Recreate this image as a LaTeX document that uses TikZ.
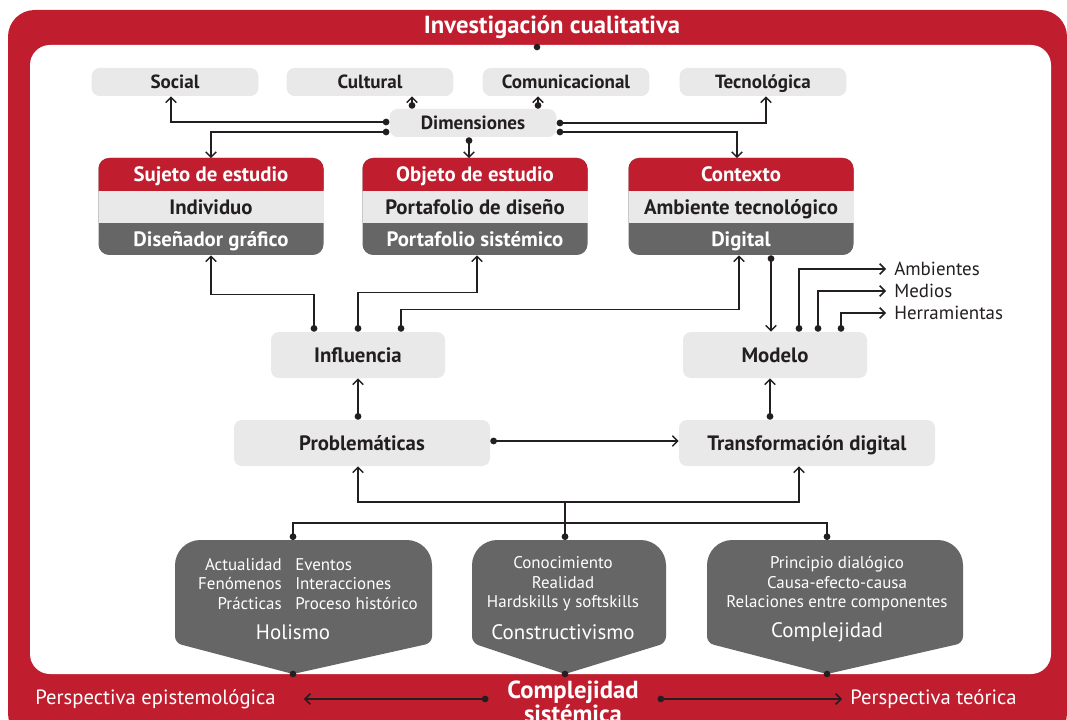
\documentclass[tikz,border=0pt]{standalone}
\usepackage{fontspec}
\setmainfont{PT Sans}
\usetikzlibrary{arrows.meta}

\definecolor{unired}{RGB}{192,30,47}
\definecolor{boxgray}{RGB}{233,233,233}
\definecolor{shieldgray}{RGB}{102,102,102}
\definecolor{inkblack}{RGB}{35,31,32}

\begin{document}
\begin{tikzpicture}[x=0.75pt, y=-0.75pt,
    every node/.style={inner sep=0pt, text=inkblack,
        font=\fontsize{15.6}{17}\selectfont\bfseries},
    graybox/.style={rounded corners=6pt, fill=boxgray, minimum height=21pt,
        font=\fontsize{14.3}{16}\selectfont\bfseries, text height=10pt, text depth=0pt},
    bigbox/.style={rounded corners=6pt, fill=boxgray, minimum height=34.5pt,
        text height=11pt, text depth=0pt},
    part/.style={minimum width=169pt, minimum height=24pt,
        text height=11pt, text depth=0pt},
    shieldtext/.style={text=white, align=center,
        font=\fontsize{12.7}{14.6}\selectfont},
    shieldname/.style={text=white, font=\fontsize{15.7}{17}\selectfont},
    sidelabel/.style={anchor=west, inner xsep=6pt,
        font=\fontsize{14.2}{16}\selectfont},
    bandlabel/.style={text=white, font=\fontsize{15.5}{17}\selectfont},
    conn/.style={draw=inkblack, line width=1.1pt,
        {Circle[length=5pt]}-{Straight Barb[length=4pt,width=8pt]}},
    arrowonly/.style={draw=inkblack, line width=1.1pt,
        -{Straight Barb[length=4pt,width=8pt]}},
    dotline/.style={draw=inkblack, line width=1.1pt,
        {Circle[length=5pt]}-{Circle[length=5pt]}}]

% frame
\useasboundingbox (0,0) rectangle (1067,720);
\fill[unired, rounded corners=20pt] (8,10) rectangle (1067,740);
\fill[white, rounded corners=15pt] (30,45) rectangle (1051,674);
\node[text=white, font=\fontsize{18.5}{20}\selectfont\bfseries] (inv) at (552,27) {Investigación cualitativa};
\coordinate (invdot) at (537,47);
\fill[inkblack] (invdot) circle (2.5pt);

% dimensiones
\node[graybox, minimum width=125pt] (soc) at (175,82) {Social};
\node[graybox, minimum width=125pt] (cult) at (370,82) {Cultural};
\node[graybox, minimum width=125pt] (comu) at (566,82) {Comunicacional};
\node[graybox, minimum width=125pt] (tec) at (763,82) {Tecnológica};
\node[graybox, minimum width=125pt] (dim) at (473,123) {Dimensiones};

% sujeto, objeto, contexto
\foreach \nm/\cx/\ta/\tb/\tc in {suj/211/{Sujeto de estudio}/{Individuo}/{Diseñador gráfico},
    obj/475/{Objeto de estudio}/{Portafolio de diseño}/{Portafolio sistémico},
    ctx/741/{Contexto}/{Ambiente tecnológico}/{Digital}} {
  \fill[shieldgray, rounded corners=8pt] (\cx-112.5,158) rectangle (\cx+112.5,255);
  \fill[unired, rounded corners=8pt] (\cx-112.5,158) rectangle (\cx+112.5,200);
  \fill[boxgray] (\cx-112.5,191) rectangle (\cx+112.5,223);
  \node[part, text=white] (\nm) at (\cx,174.5) {\ta};
  \node[part] (\nm-mid) at (\cx,207) {\tb};
  \node[part, text=white] (\nm-low) at (\cx,239) {\tc};
}

\node[bigbox, minimum width=130.5pt] (infl) at (358,355) {Influencia};
\node[bigbox, minimum width=138pt] (mod) at (775,355) {Modelo};
\node[bigbox, minimum width=192pt] (prob) at (362,443) {Problemáticas};
\node[bigbox, minimum width=192pt] (trans) at (807,443) {Transformación digital};

\node[sidelabel] (amb) at (886,269) {Ambientes};
\node[sidelabel] (med) at (886,291) {Medios};
\node[sidelabel] (herr) at (886,313) {Herramientas};

% shields
\foreach \nm/\xl/\xr/\xp in {hol/175/432/293, cons/472/666/565, comp/707/963/827} {
  \fill[shieldgray] (\xl,600) [rounded corners=19pt] -- (\xl,540) -- (\xr,540)
     [rounded corners=5pt] -- (\xr,643) [sharp corners] -- (\xp,674)
     [rounded corners=5pt] -- (\xl,643) [sharp corners] -- cycle;
  \coordinate (\nm-top) at (\xp,540);
  \coordinate (\nm-tip) at (\xp,674);
  \fill[inkblack] (\nm-tip) circle (2.5pt);
}
\node[shieldtext, align=right, anchor=east] (hol-a) at (282,584) {Actualidad\\Fenómenos\\Prácticas};
\node[shieldtext, align=left, anchor=west] (hol-b) at (295,584) {Eventos\\Interacciones\\Proceso histórico};
\node[shieldname] (hol) at (293,632) {Holismo};
\node[shieldtext] (cons-a) at (563,584) {Conocimiento\\Realidad\\Hardskills y softskills};
\node[shieldname] (cons) at (563,632) {Constructivismo};
\node[shieldtext] (comp-a) at (837,584) {Principio dialógico\\Causa-efecto-causa\\Relaciones entre componentes};
\node[shieldname] (comp) at (827,632) {Complejidad};

% bottom band
\node[bandlabel, anchor=west] (pe) at (35,699) {Perspectiva epistemológica};
\node[bandlabel, anchor=west] (pt) at (850,699) {Perspectiva teórica};
\node[text=white, font=\fontsize{18.5}{16}\selectfont\bfseries, align=center, inner xsep=14pt] (cs) at (573,702) {Complejidad\\sistémica};
\draw[conn] (cs.west |- pe.east) -- ([xshift=21pt]pe.east);
\draw[conn] (cs.east |- pt.west) -- ([xshift=-6pt]pt.west);

% conectores dimensiones
\draw[conn] (dim.north -| 412,0) -- (cult.south -| 412,0);
\draw[conn] (dim.north -| 538,0) -- (comu.south -| 538,0);
\draw[conn] (dim.west |- 0,122) -| (soc.south -| 171,0);
\draw[conn] (dim.west |- 0,132) -| (suj.north -| 211,0);
\draw[conn] (dim.south -| 469,0) -- (obj.north -| 469,0);
\draw[conn] (dim.east |- 0,123) -| (tec.south -| 766,0);
\draw[conn] (dim.east |- 0,132) -| (ctx.north -| 737,0);

% influencia, modelo
\draw[conn] (infl.north -| 314,0) -- ++(0,-37) -| (suj-low.south -| 211,0);
\draw[conn] (infl.north -| 358,0) -- ++(0,-39) -| (obj-low.south -| 477,0);
\draw[conn] (infl.north -| 401,0) -- ++(0,-22) -| (ctx-low.south -| 739,0);
\draw[conn] (ctx-low.south -| 771,0) -- (mod.north -| 771,0);
\draw[conn] (mod.north -| 799,0) |- (amb.west);
\draw[conn] (mod.north -| 818,0) |- (med.west);
\draw[conn] (mod.north -| 841,0) |- (herr.west);
\draw[conn] (prob.north -| 358,0) -- (infl.south -| 358,0);
\draw[conn] (prob.east |- 0,441) -- (trans.west |- 0,441);
\draw[conn] (trans.north -| 770,0) -- (mod.south -| 770,0);

% raices
\draw[dotline] (hol-top) -- ++(0,-17) -| (comp-top);
\draw[conn] (cons-top) -- ++(0,-38) -| (prob.south -| 358,0);
\draw[arrowonly] (cons-top) ++(0,-38) -| (trans.south -| 799,0);
\end{tikzpicture}
\end{document}
